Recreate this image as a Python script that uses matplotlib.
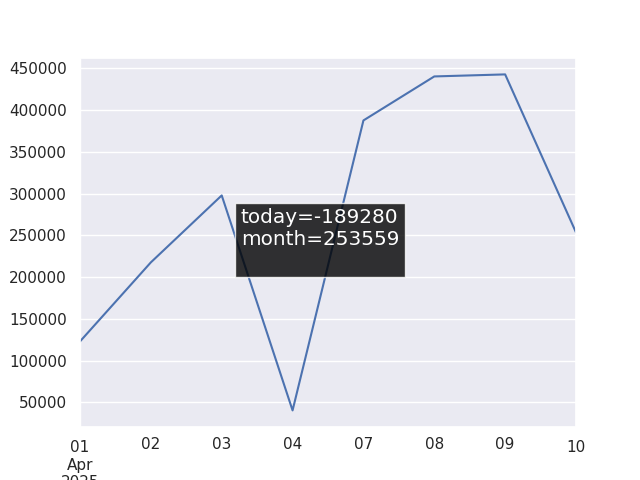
import matplotlib
matplotlib.use("Agg")
import matplotlib.pyplot as plt
import pandas as pd
import seaborn as sns

sns.set_theme()

dates = pd.bdate_range("2025-04-01", "2025-04-10")
values = [123000, 217700, 297900, 40400, 387700, 440400, 442839, 253559]

today = values[-1] - values[-2]
month = values[-1]

fig, ax = plt.subplots(figsize=(6.4, 4.8), dpi=100)
s = pd.Series(values, index=dates)
s.plot(ax=ax)

ax.text(0.324, 0.422, f"today={today}\nmonth={month}\n",
        transform=ax.transAxes, fontsize=14.4, color="white", va="bottom",
        bbox=dict(facecolor="black", alpha=0.8))

fig.savefig("out.png")
